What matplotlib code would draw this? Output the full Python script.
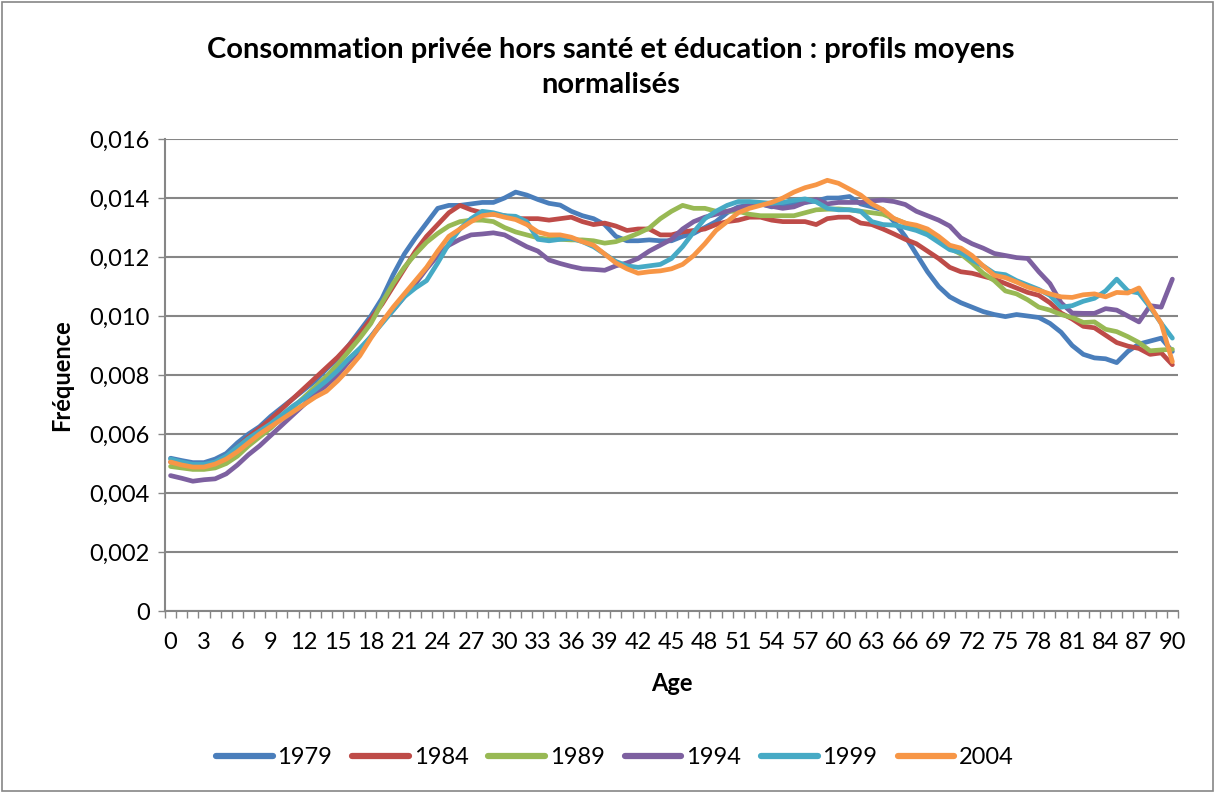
import numpy as np
import matplotlib
matplotlib.use("Agg")
import matplotlib.pyplot as plt
from matplotlib.patches import Rectangle
from matplotlib.ticker import FuncFormatter, FixedLocator

# ages 0..90, values in thousandths (x 0.001)
ages = list(range(0, 91))
years = ["1979", "1984", "1989", "1994", "1999", "2004"]

v1979 = [5.18, 5.1, 5.03, 5.03, 5.15, 5.34, 5.7, 6.0, 6.25, 6.6, 6.9, 7.2, 7.5, 7.8, 8.2, 8.55,
         9.0, 9.5, 10.0, 10.6, 11.4, 12.1, 12.65, 13.15, 13.65, 13.75, 13.75, 13.8, 13.85, 13.85,
         14.0, 14.2, 14.1, 13.95, 13.82, 13.76, 13.55, 13.4, 13.3, 13.1, 12.7, 12.55, 12.55, 12.58,
         12.55, 12.55, 12.7, 12.8, 13.0, 13.2, 13.5, 13.7, 13.75, 13.8, 13.7, 13.75, 13.8, 13.85,
         13.9, 14.0, 14.0, 14.05, 13.8, 13.7, 13.6, 13.2, 12.7, 12.1, 11.5, 11.0, 10.65, 10.45,
         10.3, 10.15, 10.05, 9.98, 10.05, 10.0, 9.95, 9.75, 9.45, 9.0, 8.7, 8.58, 8.55, 8.42, 8.8,
         9.05, 9.15, 9.25, 8.8]
v1984 = [5.05, 4.98, 4.9, 4.9, 5.0, 5.2, 5.55, 5.9, 6.2, 6.5, 6.85, 7.2, 7.55, 7.9, 8.25, 8.6,
         9.0, 9.4, 9.9, 10.4, 11.0, 11.6, 12.2, 12.7, 13.1, 13.5, 13.75, 13.6, 13.5, 13.45, 13.4,
         13.3, 13.3, 13.3, 13.25, 13.3, 13.35, 13.2, 13.1, 13.15, 13.05, 12.9, 12.95, 12.95, 12.75,
         12.75, 12.85, 12.9, 12.95, 13.1, 13.2, 13.25, 13.35, 13.35, 13.25, 13.2, 13.2, 13.2, 13.1,
         13.3, 13.35, 13.35, 13.15, 13.1, 12.95, 12.78, 12.6, 12.45, 12.2, 11.95, 11.65, 11.5,
         11.45, 11.35, 11.25, 11.1, 10.95, 10.8, 10.7, 10.45, 10.1, 9.9, 9.65, 9.6, 9.35, 9.1,
         8.98, 8.9, 8.7, 8.75, 8.35]
v1989 = [4.9, 4.85, 4.8, 4.8, 4.85, 5.0, 5.25, 5.6, 5.9, 6.2, 6.55, 6.9, 7.25, 7.6, 7.95, 8.35,
         8.8, 9.25, 9.75, 10.45, 11.1, 11.65, 12.1, 12.5, 12.8, 13.05, 13.2, 13.25, 13.25, 13.2,
         13.0, 12.85, 12.75, 12.65, 12.6, 12.6, 12.58, 12.58, 12.55, 12.47, 12.52, 12.65, 12.8,
         12.98, 13.3, 13.55, 13.75, 13.65, 13.65, 13.55, 13.55, 13.55, 13.45, 13.4, 13.4, 13.4,
         13.4, 13.5, 13.6, 13.62, 13.63, 13.6, 13.55, 13.5, 13.45, 13.3, 13.15, 13.0, 12.8, 12.55,
         12.3, 12.1, 11.8, 11.45, 11.2, 10.85, 10.75, 10.55, 10.3, 10.2, 10.05, 9.95, 9.78, 9.8,
         9.55, 9.47, 9.3, 9.1, 8.82, 8.85, 8.87]
v1994 = [4.59, 4.5, 4.4, 4.45, 4.48, 4.65, 4.95, 5.3, 5.6, 5.95, 6.3, 6.65, 7.0, 7.35, 7.65, 8.0,
         8.45, 8.85, 9.3, 9.8, 10.2, 10.65, 11.1, 11.6, 12.05, 12.4, 12.6, 12.75, 12.78, 12.82,
         12.75, 12.55, 12.35, 12.2, 11.9, 11.78, 11.68, 11.6, 11.58, 11.55, 11.7, 11.8, 11.95,
         12.2, 12.4, 12.6, 12.95, 13.2, 13.35, 13.45, 13.55, 13.65, 13.75, 13.8, 13.72, 13.65,
         13.7, 13.85, 13.95, 13.8, 13.85, 13.85, 13.85, 13.9, 13.93, 13.88, 13.78, 13.55, 13.4,
         13.25, 13.05, 12.65, 12.45, 12.3, 12.12, 12.05, 11.98, 11.95, 11.5, 11.1, 10.45, 10.1,
         10.09, 10.09, 10.25, 10.2, 10.0, 9.8, 10.35, 10.3, 11.25]
v1999 = [5.15, 5.05, 4.97, 4.97, 5.05, 5.25, 5.55, 5.85, 6.1, 6.35, 6.65, 6.95, 7.2, 7.5, 7.8,
         8.15, 8.55, 8.9, 9.3, 9.75, 10.2, 10.65, 10.95, 11.2, 11.8, 12.45, 12.95, 13.3, 13.55,
         13.5, 13.4, 13.38, 13.2, 12.6, 12.55, 12.6, 12.63, 12.52, 12.35, 12.1, 11.85, 11.7, 11.65,
         11.7, 11.75, 11.95, 12.35, 12.85, 13.3, 13.55, 13.75, 13.88, 13.88, 13.85, 13.82, 13.85,
         13.92, 13.97, 13.87, 13.65, 13.6, 13.6, 13.55, 13.2, 13.1, 13.08, 13.0, 12.9, 12.75, 12.5,
         12.25, 12.15, 11.9, 11.7, 11.45, 11.4, 11.2, 11.05, 10.9, 10.7, 10.3, 10.35, 10.5, 10.6,
         10.85, 11.25, 10.85, 10.78, 10.3, 9.75, 9.25]
v2004 = [5.05, 4.95, 4.88, 4.88, 4.98, 5.15, 5.4, 5.7, 6.0, 6.25, 6.5, 6.75, 7.0, 7.25, 7.45,
         7.8, 8.2, 8.65, 9.25, 9.8, 10.3, 10.75, 11.2, 11.65, 12.2, 12.7, 12.95, 13.2, 13.4, 13.45,
         13.35, 13.27, 13.1, 12.85, 12.75, 12.75, 12.67, 12.52, 12.4, 12.1, 11.8, 11.6, 11.45,
         11.5, 11.53, 11.6, 11.75, 12.05, 12.45, 12.9, 13.2, 13.5, 13.65, 13.75, 13.85, 14.0, 14.2,
         14.35, 14.45, 14.6, 14.5, 14.3, 14.1, 13.8, 13.6, 13.3, 13.15, 13.08, 12.95, 12.7, 12.4,
         12.3, 12.05, 11.7, 11.38, 11.3, 11.15, 10.98, 10.87, 10.75, 10.65, 10.63, 10.72, 10.75,
         10.65, 10.8, 10.78, 10.95, 10.35, 9.75, 8.45]

series = [v1979, v1984, v1989, v1994, v1999, v2004]
colors = ["#4A7EBB", "#BE4B48", "#98B954", "#7D60A0", "#46AAC5", "#F79646"]

plt.rcParams['font.family'] = ['Lato', 'DejaVu Sans']

fig = plt.figure(figsize=(12.15, 7.93), dpi=100)
ax = fig.add_axes([0.1358, 0.2295, 0.9695 - 0.1358, 0.8247 - 0.2295])

for vals, col, lab in zip(series, colors, years):
    ax.plot(ages, np.array(vals) / 1000, color=col, lw=3.4, label=lab,
            solid_joinstyle='round', solid_capstyle='round')

ax.set_xlim(-0.5, 90.5)
ax.set_ylim(0, 0.016)
ax.set_yticks(np.arange(0, 0.0161, 0.002))
ax.yaxis.set_major_formatter(FuncFormatter(
    lambda v, p: "0" if abs(v) < 1e-9 else f"{v:.3f}".replace(".", ",")))
ax.grid(axis='y', color='#868686', lw=1.5)
ax.set_axisbelow(True)

ax.set_xticks(list(range(0, 91, 3)))
ax.xaxis.set_minor_locator(FixedLocator(np.arange(-0.5, 91, 1)))
ax.tick_params(axis='x', which='major', length=0, labelsize=17, pad=15)
ax.tick_params(axis='x', which='minor', length=5, color='#868686', width=1)
ax.tick_params(axis='y', length=5, color='#868686', width=1, labelsize=17, pad=6)

for side in ['top', 'right']:
    ax.spines[side].set_visible(False)
for side in ['left', 'bottom']:
    ax.spines[side].set_color('#868686')
    ax.spines[side].set_linewidth(1.5)

ax.set_xlabel("Age", fontsize=17, fontweight='bold', labelpad=14)
ax.set_ylabel("Fréquence", fontsize=17, fontweight='bold', labelpad=12)

fig.text(0.503, 0.915, "Consommation privée hors santé et éducation : profils moyens\nnormalisés",
         ha='center', va='center', fontsize=21, fontweight='bold', linespacing=1.45)

leg = fig.legend(loc='center', bbox_to_anchor=(0.506, 0.045), ncol=6, frameon=False,
                 fontsize=17, handlelength=2.4, handletextpad=0.2, columnspacing=0.85)
for h in leg.legend_handles:
    h.set_linewidth(4.5)

fig.patches.append(Rectangle((0.002, 0.003), 0.996, 0.994, transform=fig.transFigure,
                             fill=False, edgecolor='#868686', lw=1.2))

fig.savefig("out.png", dpi=100)
